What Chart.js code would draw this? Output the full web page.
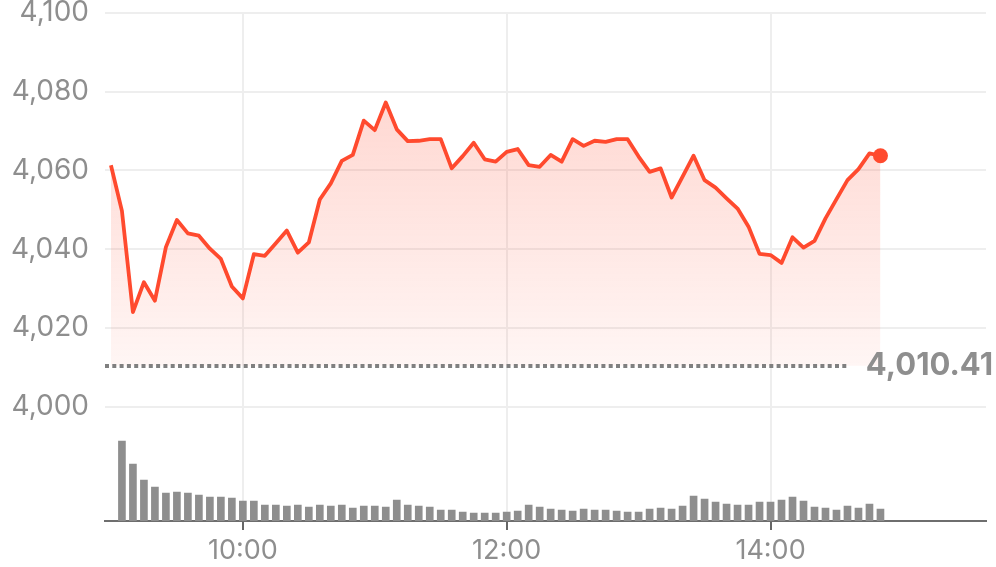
<!DOCTYPE html>
<html>
<head>
<meta charset="utf-8">
<script src="https://cdn.jsdelivr.net/npm/chart.js@4"></script>
<style>
  html, body { margin: 0; padding: 0; background: #fff; }
</style>
</head>
<body>
<canvas id="chart" width="996" height="567"></canvas>
<script>
"use strict";
// 5-minute intraday data, 09:00 - 14:50
const times = [
    "09:00", "09:05", "09:10", "09:15", "09:20", "09:25", "09:30", "09:35", "09:40", "09:45", "09:50", "09:55",
    "10:00", "10:05", "10:10", "10:15", "10:20", "10:25", "10:30", "10:35", "10:40", "10:45", "10:50", "10:55",
    "11:00", "11:05", "11:10", "11:15", "11:20", "11:25", "11:30", "11:35", "11:40", "11:45", "11:50", "11:55",
    "12:00", "12:05", "12:10", "12:15", "12:20", "12:25", "12:30", "12:35", "12:40", "12:45", "12:50", "12:55",
    "13:00", "13:05", "13:10", "13:15", "13:20", "13:25", "13:30", "13:35", "13:40", "13:45", "13:50", "13:55",
    "14:00", "14:05", "14:10", "14:15", "14:20", "14:25", "14:30", "14:35", "14:40", "14:45", "14:50"
];
const prices = [
    4061.3, 4049.7, 4024.0, 4031.6, 4026.9, 4040.5, 4047.4, 4044.0, 4043.4, 4040.1, 4037.5, 4030.5,
    4027.5, 4038.7, 4038.3, 4041.5, 4044.7, 4039.1, 4041.7, 4052.6, 4056.7, 4062.4, 4063.9, 4072.6,
    4070.2, 4077.2, 4070.4, 4067.4, 4067.5, 4067.9, 4067.9, 4060.5, 4063.6, 4067.0, 4062.8, 4062.2,
    4064.7, 4065.4, 4061.3, 4060.9, 4063.9, 4062.2, 4067.9, 4066.2, 4067.5, 4067.2, 4067.9, 4067.9,
    4063.5, 4059.6, 4060.5, 4053.1, 4058.4, 4063.7, 4057.5, 4055.6, 4052.9, 4050.3, 4045.7, 4038.8,
    4038.5, 4036.5, 4043.0, 4040.4, 4042.1, 4047.8, 4052.7, 4057.5, 4060.3, 4064.3, 4063.7
];
// volume per 5-minute bar (relative units), bars 09:05 - 14:50
const volumeTimes = times.slice(1);
const volumes = [
    80, 57, 41, 34, 28, 29, 28, 26, 24, 24, 23, 20, 20, 16, 16, 15, 16, 14, 16, 15, 16, 13, 15, 15, 14,
    21, 16, 15, 14, 11, 11, 9, 8, 8, 8, 9, 10, 16, 14, 12, 11, 10, 12, 11, 11, 10, 9, 9, 12, 13, 12,
    15, 25, 22, 19, 17, 16, 16, 19, 19, 21, 24, 20, 14, 13, 11, 15, 13, 17, 12
];
const priceTicks = [4000, 4020, 4040, 4060, 4080, 4100];
const timeTicks = ["10:00", "12:00", "14:00"];
const prevClose = 4010.41;

const GREY = "#8e8e8e";
const RED = "#ff4a2e";
const FONT = "Inter";

const toMin = t => {
    const [h, m] = t.split(":").map(Number);
    return h * 60 + m;
};
const fmtTime = v => {
    const h = Math.floor(v / 60);
    const m = Math.round(v % 60);
    return `${h}:${String(m).padStart(2, "0")}`;
};

const prevClosePlugin = {
    id: "prevClose",
    afterDatasetsDraw(chart) {
        const { ctx, chartArea, scales } = chart;
        const yv = scales.y.getPixelForValue(prevClose);
        const y = Math.round(yv);
        const text = prevClose.toLocaleString("en-US", { minimumFractionDigits: 2 });
        ctx.save();
        ctx.font = `bold 31px ${FONT}`;
        const w = ctx.measureText(text).width;
        const right = chart.width - 3;
        ctx.strokeStyle = "#808080";
        ctx.lineWidth = 4;
        ctx.setLineDash([4, 3.3]);
        ctx.beginPath();
        ctx.moveTo(chartArea.left, y);
        ctx.lineTo(right - w - 17, y);
        ctx.stroke();
        ctx.fillStyle = GREY;
        ctx.textAlign = "right";
        ctx.textBaseline = "middle";
        ctx.fillText(text, right, yv);
        ctx.restore();
    }
};

const lastIndex = prices.length - 1;

new Chart("chart", {
    data: {
        datasets: [{
                type: "line",
                data: times.map((t, i) => ({ x: toMin(t), y: prices[i] })),
                borderColor: RED,
                borderWidth: 3.8,
                borderJoinStyle: "round",
                tension: 0,
                pointRadius: ctx => (ctx.dataIndex === lastIndex ? 7.5 : 0),
                pointBackgroundColor: RED,
                pointBorderWidth: 0,
                fill: { value: prevClose },
                backgroundColor: ctx => {
                    const chart = ctx.chart;
                    const area = chart.chartArea;
                    if (!area) return "rgba(255,74,46,0.15)";
                    const y0 = chart.scales.y.getPixelForValue(prevClose);
                    const g = chart.ctx.createLinearGradient(0, area.top, 0, y0);
                    g.addColorStop(0, "rgba(255,74,46,0.27)");
                    g.addColorStop(1, "rgba(255,74,46,0.05)");
                    return g;
                },
                order: 0,
            }, {
                type: "bar",
                data: volumeTimes.map((t, i) => ({ x: toMin(t), y: volumes[i] })),
                yAxisID: "yv",
                backgroundColor: GREY,
                barThickness: 7,
                order: 1,
            }],
    },
    options: {
        responsive: false,
        animation: false,
        events: [],
        layout: { padding: { top: 12.7, right: 10, bottom: 0, left: 0 } },
        plugins: { legend: { display: false }, tooltip: { enabled: false } },
        scales: {
            x: {
                type: "linear",
                offset: false,
                min: 537.3,
                max: 938,
                afterBuildTicks: s => { s.ticks = timeTicks.map(t => ({ value: toMin(t) })); },
                afterFit: s => { s.height = 46; s.paddingLeft = 0; s.paddingRight = 0; },
                ticks: {
                    callback: v => fmtTime(v),
                    color: GREY,
                    font: { family: FONT, size: 27 },
                    padding: 5,
                    maxRotation: 0,
                    autoSkip: false,
                },
                grid: { offset: false, color: "#eeeeee", lineWidth: 2, tickColor: "#666666", tickLength: 9, tickWidth: 2 },
                border: { color: "#6e6e6e", width: 2 },
            },
            y: {
                position: "left",
                min: 3971,
                max: 4100,
                afterBuildTicks: s => { s.ticks = priceTicks.map(v => ({ value: v })); },
                afterFit: s => { s.width = 105; s.paddingTop = 0; s.paddingBottom = 0; },
                ticks: {
                    callback: v => v.toLocaleString("en-US"),
                    color: GREY,
                    font: { family: FONT, size: 28 },
                    padding: 16,
                },
                grid: { drawTicks: false, color: "#eeeeee", lineWidth: 2 },
                border: { display: false },
            },
            yv: { display: false, min: 0, max: 508.3 },
        },
    },
    plugins: [prevClosePlugin],
});
</script>
</body>
</html>
